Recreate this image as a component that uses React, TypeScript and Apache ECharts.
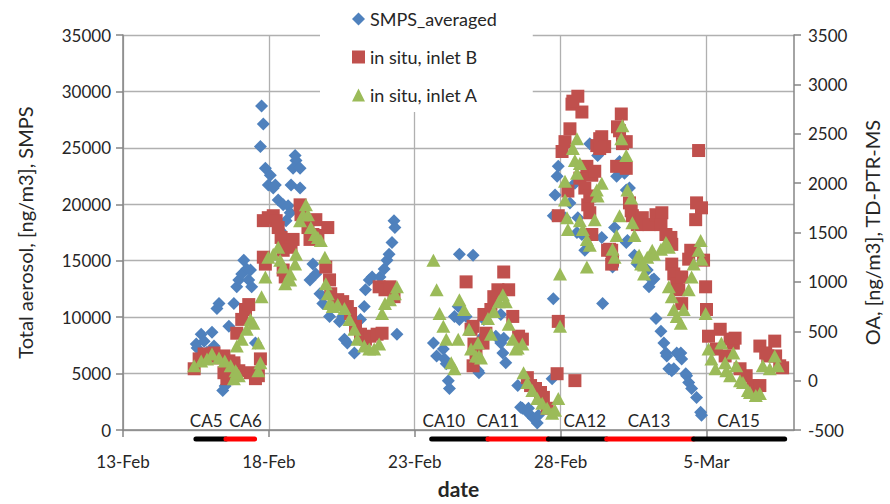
import React, { useEffect, useRef } from 'react';
import * as echarts from 'echarts';

// x values are days since 13-Feb
const dateTickDays = [0, 5, 10, 15, 20];
const dateTickLabels = ['13-Feb', '18-Feb', '23-Feb', '28-Feb', '5-Mar'];

const smpsAveraged: number[][] = [
  [2.51, 7610], [2.54, 7260], [2.68, 8490], [2.78, 7875], [2.88, 6900], [3.05, 8660], [3.12, 7440],
  [3.22, 10760], [3.29, 11200], [3.63, 9190], [3.8, 11200], [3.42, 3500], [3.5, 3900], [3.9, 12690],
  [3.97, 13300], [4.07, 13825], [4.14, 15050], [4.24, 14260], [4.31, 13300], [4.37, 14175], [4.41, 12690],
  [4.54, 7700], [4.75, 28700], [4.81, 27125], [4.71, 25110], [4.88, 23190], [5.05, 22575], [4.98, 21700],
  [5.22, 21700], [5.15, 21440], [5.32, 20390], [5.49, 19950], [5.66, 19860], [5.73, 19250], [5.59, 18550],
  [5.39, 17675], [5.9, 24325], [5.93, 23890], [5.83, 23190], [6.07, 23190], [5.76, 21700], [6.07, 21440],
  [6.51, 14700], [6.41, 13300], [6.61, 13825], [6.75, 12075], [6.85, 11200], [7.08, 10060], [7.29, 10940],
  [7.42, 9625], [7.53, 10060], [7.59, 8050], [7.69, 7700], [7.93, 6825], [8.14, 9800], [8.27, 10940],
  [8.31, 12425], [8.44, 13300], [8.54, 13560], [8.81, 13560], [8.95, 14260], [9.05, 15050], [9.12, 15575],
  [9.22, 16625], [9.29, 18550], [9.32, 17940], [9.39, 8490],
  [10.64, 7700], [10.75, 6560], [10.98, 7175], [11.02, 6300], [11.08, 5860], [11.15, 4375], [11.19, 3675],
  [11.53, 15575], [12.0, 15490], [11.36, 10060], [11.49, 10940], [11.53, 9800], [11.76, 10060], [12.2, 5075],
  [12.37, 9800], [12.17, 5250], [12.34, 8310], [12.78, 8310], [12.95, 7700], [13.02, 6825], [13.12, 5950],
  [13.05, 8140], [12.95, 10240], [13.53, 3940], [13.63, 2010], [13.69, 1925], [13.9, 1925], [13.9, 1490],
  [14.07, 1050], [14.2, 610], [14.24, 1310], [14.71, 4550], [14.75, 11640], [14.92, 23360], [14.88, 22490],
  [14.81, 20825], [14.75, 18990], [15.15, 18810], [15.32, 20125], [15.49, 21875], [15.59, 18810],
  [15.73, 17325], [15.83, 15925], [16.0, 25375], [15.56, 17500], [16.41, 17060], [16.44, 11200],
  [16.78, 14440], [16.85, 17940], [16.92, 22490], [17.02, 23800], [17.25, 16625], [17.53, 15490],
  [17.25, 21260], [16.27, 24325], [17.19, 22750], [17.36, 21440], [17.29, 16800], [17.63, 14700],
  [17.97, 14175], [18.14, 13300], [18.03, 12690], [18.2, 13390], [18.27, 9890], [18.44, 8750], [18.54, 7700],
  [18.61, 6825], [18.64, 6560], [18.71, 5425], [18.81, 5250], [18.88, 5425], [18.98, 6825], [19.12, 6825],
  [19.15, 6300], [19.29, 4990], [19.32, 4810], [19.39, 4200], [19.49, 3675], [19.66, 2890], [19.8, 1575],
  [19.83, 1310],
];

const inletB: number[][] = [
  [2.44, 120], [2.61, 220], [2.78, 270], [2.95, 250], [3.12, 280], [3.29, 230], [3.46, 250], [3.63, 200],
  [3.8, 150], [3.97, 100], [3.56, 20], [3.46, 80], [3.8, 180], [3.86, 80], [4.37, 80], [4.54, 20], [4.71, 220],
  [4.64, 50], [3.9, 480], [4.07, 620], [4.2, 720], [4.31, 770], [4.81, 1250], [4.88, 1180], [4.81, 1620],
  [4.98, 1650], [5.15, 1670], [5.25, 1620], [5.32, 1550], [5.42, 1450], [5.59, 1420], [5.83, 1430],
  [5.76, 1350], [5.49, 1320], [5.49, 1120], [5.56, 1050], [6.07, 1780], [6.1, 1680], [6.34, 1550],
  [6.51, 1480], [6.61, 1630], [6.68, 1470], [6.41, 1430], [6.95, 1150], [7.08, 1020], [7.12, 880],
  [7.02, 1550], [7.36, 820], [7.53, 800], [7.69, 750], [7.8, 680], [7.97, 550], [8.14, 470], [8.31, 420],
  [8.47, 450], [8.71, 470], [8.88, 480], [8.78, 950], [8.98, 920], [9.15, 950], [9.29, 850],
  [11.76, 1000], [12.0, 550], [12.03, 370], [12.0, 150], [11.93, 520], [12.1, 280], [12.34, 380],
  [12.44, 480], [12.37, 670], [12.61, 720], [12.71, 850], [12.85, 920], [13.05, 1100], [13.22, 920],
  [13.36, 650], [13.56, 450], [13.69, 420], [13.86, 30], [13.97, -50], [14.14, -80], [14.31, -120],
  [14.41, -170], [14.54, -280], [14.88, 70], [15.49, 0], [14.92, 600], [15.39, 2800], [15.59, 2880],
  [15.73, 2720], [15.42, 2830], [15.32, 2550], [15.15, 2420], [15.05, 2320], [14.92, 1670], [15.25, 1920],
  [15.66, 2050], [15.83, 1950], [16.07, 2080], [16.34, 2450], [16.24, 2380], [15.93, 1780], [16.07, 1480],
  [16.61, 1320], [15.9, 2170], [16.17, 2120], [16.0, 1870], [16.41, 2470], [16.51, 2370], [16.0, 1700],
  [16.75, 1320], [16.78, 1220], [16.75, 1180], [16.68, 1330], [16.34, 2350], [17.08, 2700], [16.95, 2570],
  [17.12, 2400], [17.02, 2530], [17.25, 2420], [16.92, 2170], [17.25, 2150], [17.36, 1800], [17.42, 1720],
  [17.46, 1670], [17.63, 1580], [17.8, 1650], [18.03, 1580], [18.27, 1680], [18.47, 1700], [18.44, 1580],
  [18.61, 1480], [18.78, 1450], [18.81, 1380], [18.81, 1180], [18.88, 1080], [18.98, 980], [19.15, 1050],
  [19.05, 920], [19.15, 780], [19.46, 1320], [19.39, 1230], [19.9, 1220], [19.73, 2330], [19.66, 1800],
  [19.83, 1750], [19.63, 1630], [19.97, 950], [20.0, 720], [20.07, 450], [20.47, 520], [20.81, 420],
  [20.92, 380], [20.98, 430], [20.34, 320], [20.64, 250], [21.15, 120], [21.36, 50], [21.59, -50],
  [21.69, -120], [21.83, -50], [21.83, 350], [22.03, 280], [22.1, 250], [22.34, 400], [22.37, 250],
  [22.51, 150], [22.61, 130],
];

const inletA: number[][] = [
  [2.44, 150], [2.68, 200], [2.88, 220], [3.05, 270], [3.29, 230], [3.49, 200], [3.69, 150], [3.86, 100],
  [3.97, 50], [3.8, 20], [3.9, 80], [3.9, 350], [4.07, 420], [4.24, 520], [4.37, 620], [4.47, 580],
  [4.64, 380], [4.71, 180], [4.64, 100], [4.75, 850], [4.88, 1050], [4.98, 1250], [5.15, 1280], [5.32, 1350],
  [5.39, 1220], [5.49, 1150], [5.56, 980], [5.73, 1020], [5.73, 1080], [5.93, 1280], [5.9, 1180],
  [6.07, 1620], [6.17, 1680], [6.27, 1780], [6.34, 1680], [6.44, 1550], [6.58, 1480], [6.68, 1450],
  [6.78, 1420], [6.92, 1250], [6.95, 980], [7.02, 880], [7.08, 780], [7.19, 750], [7.36, 770], [7.59, 730],
  [7.76, 620], [7.93, 520], [8.03, 420], [8.27, 350], [8.44, 320], [8.61, 320], [8.78, 370], [8.88, 680],
  [8.98, 780], [9.15, 820], [9.32, 880], [9.39, 950],
  [10.64, 1220], [10.75, 920], [10.85, 680], [10.98, 550], [11.08, 420], [11.25, 180], [11.36, 120],
  [11.53, 820], [11.69, 720], [11.49, 420], [11.86, 520], [11.93, 320], [12.1, 250], [12.17, 380],
  [12.2, 250], [12.27, 230], [12.51, 630], [12.61, 470], [12.71, 700], [12.88, 800], [13.02, 870],
  [13.12, 800], [13.22, 570], [13.36, 420], [13.46, 320], [13.53, 330], [13.69, 370], [13.73, 80],
  [13.86, -20], [14.03, -100], [14.2, -180], [14.37, -230], [14.54, -280], [14.71, -330], [14.81, -300],
  [14.92, -180], [14.98, 1080], [14.98, 550], [15.15, 1830], [15.22, 1650], [15.25, 1530], [15.42, 2350],
  [15.56, 2450], [15.49, 2230], [15.66, 2200], [15.56, 2100], [15.15, 2020], [15.66, 1620], [15.76, 1530],
  [15.9, 1430], [16.0, 1370], [15.9, 1150], [16.17, 1630], [16.24, 1930], [16.41, 2000], [16.27, 1870],
  [16.78, 1330], [16.85, 1250], [16.92, 1470], [17.02, 1670], [17.12, 2580], [17.08, 2450], [17.25, 2280],
  [17.29, 1930], [17.42, 1850], [17.46, 1600], [17.53, 1470], [17.63, 1250], [17.69, 1270], [17.76, 1180],
  [17.86, 1170], [17.86, 1080], [17.97, 1250], [18.14, 1320], [18.2, 1280], [18.44, 1330], [18.61, 1400],
  [18.64, 1380], [18.71, 1350], [18.71, 950], [18.81, 850], [18.88, 720], [18.98, 650], [19.12, 580],
  [19.22, 720], [19.39, 920], [19.49, 1050], [19.56, 1180], [19.8, 1420], [19.73, 1320], [19.83, 1230],
  [19.97, 680], [20.07, 320], [20.17, 220], [20.31, 120], [20.51, 380], [20.64, 180], [20.68, 100],
  [20.81, 50], [20.92, 280], [21.02, 150], [21.15, 0], [21.25, -20], [21.42, -100], [21.49, -120],
  [21.69, -150], [21.83, -130], [21.93, 150], [22.17, 120], [22.34, 250], [22.44, 150],
];

const campaignNames = ['CA5', 'CA6', 'CA10', 'CA11', 'CA12', 'CA13', 'CA15'];
const campaignStart = [2.5, 3.53, 10.58, 12.51, 14.58, 16.58, 19.56];
const campaignEnd = [3.53, 4.51, 12.51, 14.58, 16.58, 19.56, 22.68];
const campaignLabelDay = [2.85, 4.2, 11.0, 12.85, 15.83, 18.03, 21.1];
const campaignColors = ['#000000', '#ff0000', '#000000', '#ff0000', '#000000', '#ff0000', '#000000'];

const FONT = 'Lato, "Open Sans", sans-serif';
const TEXT = '#262626';
const AXIS = '#868686';
const GRID = '#b0b0b0';

export default function App() {
  const ref = useRef<HTMLDivElement>(null);
  useEffect(() => {
    if (!ref.current) return;
    const chart = echarts.init(ref.current, undefined, { renderer: 'svg' });
    const campaignData = campaignNames.map((_, i) => [campaignStart[i], campaignEnd[i], campaignLabelDay[i]]);
    const plain = (v: number) => String(v);
    chart.setOption({
      animation: false,
      backgroundColor: '#ffffff',
      textStyle: { fontFamily: FONT },
      grid: { left: 123, right: 87, top: 35, bottom: 69 },
      legend: {
        data: ['SMPS_averaged', 'in situ, inlet B', 'in situ, inlet A'],
        orient: 'vertical',
        left: 320,
        top: 0,
        padding: [10, 36, 8, 32],
        itemGap: 20,
        itemWidth: 13,
        itemHeight: 13,
        backgroundColor: '#ffffff',
        textStyle: { fontFamily: FONT, fontSize: 18, color: TEXT },
      },
      xAxis: {
        type: 'value',
        min: 0,
        max: 23,
        interval: 1,
        name: 'date',
        nameLocation: 'middle',
        nameGap: 48,
        nameTextStyle: { fontFamily: FONT, fontSize: 21, fontWeight: 'bold', color: TEXT },
        axisLine: { show: true, lineStyle: { color: AXIS, width: 1.5 } },
        axisTick: { show: true, length: 7, customValues: dateTickDays, lineStyle: { color: AXIS, width: 1.5 } },
        axisLabel: {
          customValues: dateTickDays,
          margin: 23,
          fontFamily: FONT,
          fontSize: 17,
          color: TEXT,
          formatter: (v: number) => {
            const i = dateTickDays.indexOf(Math.round(v));
            return i >= 0 ? dateTickLabels[i] : '';
          },
        },
        splitLine: { show: true, lineStyle: { color: GRID, width: 1.3 } },
      },
      yAxis: [
        {
          type: 'value',
          min: 0,
          max: 35000,
          interval: 5000,
          name: 'Total aerosol, [ng/m3], SMPS',
          nameLocation: 'middle',
          nameGap: 88,
          nameTextStyle: { fontFamily: FONT, fontSize: 20, color: TEXT },
          axisLine: { show: true, lineStyle: { color: AXIS, width: 1.5 } },
          axisTick: { show: true, length: 7, lineStyle: { color: AXIS, width: 1.5 } },
          axisLabel: { margin: 12, fontFamily: FONT, fontSize: 17, color: TEXT, formatter: plain },
          splitLine: { show: true, lineStyle: { color: GRID, width: 1.3 } },
        },
        {
          type: 'value',
          position: 'right',
          min: -500,
          max: 3500,
          interval: 500,
          name: 'OA, [ng/m3], TD-PTR-MS',
          nameLocation: 'middle',
          nameGap: 68,
          nameTextStyle: { fontFamily: FONT, fontSize: 20, color: TEXT },
          axisLine: { show: true, lineStyle: { color: AXIS, width: 1.5 } },
          axisTick: { show: true, length: 7, lineStyle: { color: AXIS, width: 1.5 } },
          axisLabel: { margin: 14, fontFamily: FONT, fontSize: 17, color: TEXT, formatter: plain },
          splitLine: { show: false },
        },
      ],
      series: [
        {
          type: 'custom',
          name: 'campaigns',
          xAxisIndex: 0,
          yAxisIndex: 0,
          clip: false,
          silent: true,
          data: campaignData,
          renderItem: (params: any, api: any) => {
            const i = params.dataIndex;
            const s = api.coord([api.value(0), 0]);
            const e = api.coord([api.value(1), 0]);
            const l = api.coord([api.value(2), 0]);
            return {
              type: 'group',
              children: [
                {
                  type: 'line',
                  shape: { x1: s[0], y1: s[1] + 9, x2: e[0], y2: e[1] + 9 },
                  style: { stroke: campaignColors[i], lineWidth: 5, lineCap: 'round' },
                },
                {
                  type: 'text',
                  x: l[0],
                  y: l[1] - 1,
                  style: {
                    text: campaignNames[i],
                    fill: TEXT,
                    fontFamily: FONT,
                    fontSize: 17,
                    align: 'center',
                    verticalAlign: 'bottom',
                    backgroundColor: '#ffffff',
                    padding: [1, 2, 0, 2],
                  },
                },
              ],
            };
          },
        },
        {
          type: 'scatter',
          name: 'SMPS_averaged',
          yAxisIndex: 0,
          symbol: 'diamond',
          symbolSize: 13,
          itemStyle: { color: '#4f81bd', opacity: 1 },
          data: smpsAveraged,
        },
        {
          type: 'scatter',
          name: 'in situ, inlet B',
          yAxisIndex: 1,
          symbol: 'rect',
          symbolSize: 13,
          itemStyle: { color: '#c0504d', opacity: 1 },
          data: inletB,
        },
        {
          type: 'scatter',
          name: 'in situ, inlet A',
          yAxisIndex: 1,
          symbol: 'triangle',
          symbolSize: [14, 13],
          itemStyle: { color: '#9bbb59', opacity: 1 },
          data: inletA,
        },
      ],
    });
    return () => chart.dispose();
  }, []);
  return <div ref={ref} style={{ position: 'fixed', left: 0, top: 0, width: 890, height: 504 }} />;
}
